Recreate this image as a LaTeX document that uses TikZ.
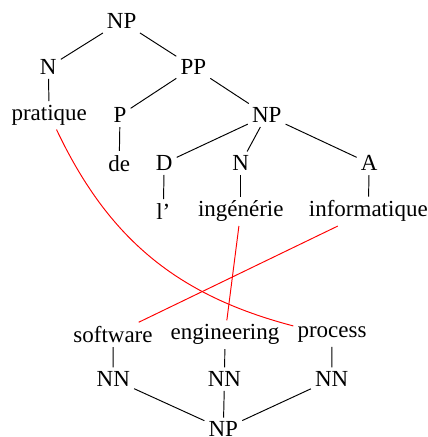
\documentclass[tikz,border=0pt]{standalone}
\usepackage{fontspec}
\setmainfont{Liberation Serif}
\begin{document}
\begin{tikzpicture}[x=0.5217pt, y=-0.5217pt,
  every node/.style={font=\fontsize{12}{14}\selectfont, inner sep=2pt},
  treeedge/.style={draw=black, line width=0.5pt},
  alignedge/.style={draw=red, line width=0.5pt}]
\useasboundingbox (0,0) rectangle (428,437);
% upper tree
\node (np1) at (121.7,21.2) {NP};
\node (n1) at (48.3,67.2) {N};
\node (pp) at (193.3,67.2) {PP};
\node (prat) at (49.2,115.3) {pratique};
\node (p) at (120,115.3) {P};
\node (np2) at (266.7,115.3) {NP};
\node (de) at (119.2,163.2) {de};
\node (d) at (164.2,163.2) {D};
\node (n2) at (240.8,163.2) {N};
\node (a) at (369.2,163.2) {A};
\node (l) at (163.3,211.3) {l’};
\node (ing) at (240.8,211.3) {ingénérie};
\node (info) at (368.3,211.3) {informatique};
\draw[treeedge] (np1) -- (n1);
\draw[treeedge] (np1) -- (pp);
\draw[treeedge] (n1) -- (prat);
\draw[treeedge] (pp) -- (p);
\draw[treeedge] (pp) -- (np2);
\draw[treeedge] (p) -- (de);
\draw[treeedge] (np2) -- (d);
\draw[treeedge] (np2) -- (n2);
\draw[treeedge] (np2) -- (a);
\draw[treeedge] (d) -- (l);
\draw[treeedge] (n2) -- (ing);
\draw[treeedge] (a) -- (info);
% lower tree
\node (sw) at (113,334.7) {software};
\node (eng) at (225,334.7) {engineering};
\node (proc) at (332,334.7) {process};
\node (nn1) at (113.3,379.2) {NN};
\node (nn2) at (224.5,379.2) {NN};
\node (nn3) at (331.7,379.2) {NN};
\node (np3) at (223.3,429.3) {NP};
\draw[treeedge] (sw) -- (nn1);
\draw[treeedge] (eng) -- (nn2);
\draw[treeedge] (proc) -- (nn3);
\draw[treeedge] (nn1) -- (np3);
\draw[treeedge] (nn2) -- (np3);
\draw[treeedge] (nn3) -- (np3);
% alignments
\draw[alignedge] (prat) to[bend right=25] (proc);
\draw[alignedge] (ing) -- (eng);
\draw[alignedge] (info) -- (sw);
\end{tikzpicture}
\end{document}
